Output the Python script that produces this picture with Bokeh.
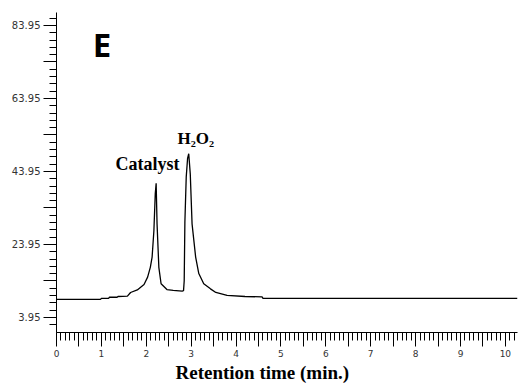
from bokeh.plotting import figure
from bokeh.models import FixedTicker, Label, Range1d, Title
from bokeh.embed import file_html
from bokeh.resources import INLINE

# Chromatogram trace (retention time in min, detector signal)
time_min = [0.00, 0.98, 1.00, 1.16, 1.18, 1.35, 1.37, 1.58, 1.65, 1.80, 1.95,
            2.03, 2.09, 2.13, 2.17, 2.20, 2.22, 2.24, 2.28, 2.33, 2.46, 2.60,
            2.80, 2.83, 2.845, 2.86, 2.89, 2.92, 2.946, 2.98, 3.02, 3.10, 3.17,
            3.28, 3.43, 3.55, 3.80, 4.20, 4.58, 4.60, 10.27]
signal = [8.9, 8.9, 9.2, 9.2, 9.5, 9.5, 9.7, 9.8, 10.8, 11.5, 13.0,
          15.0, 17.7, 20.5, 27.8, 37.8, 40.7, 29.6, 17.7, 13.2, 11.6, 11.4,
          11.2, 11.3, 14.0, 30.0, 42.4, 47.5, 48.8, 43.3, 29.6, 20.5, 16.0,
          13.2, 11.8, 10.8, 10.0, 9.7, 9.6, 9.2, 9.2]

y_major = [3.95, 13.95, 23.95, 33.95, 43.95, 53.95, 63.95, 73.95, 83.95]
y_labels = ["3.95", "23.95", "43.95", "63.95", "83.95"]
x_major = [i * 0.5 for i in range(21)]

x_title = "Retention time (min.)"
peak_names = ["Catalyst", "H\u2082O\u2082"]
peak_pos = [(1.314, 45.9), (2.695, 53.0)]
panel_letter = "E"

p = figure(width=519, height=383, output_backend="svg", toolbar_location=None,
           x_range=Range1d(0, 10.27), y_range=Range1d(-0.16, 87.5),
           min_border_left=56, min_border_right=2, min_border_top=12,
           min_border_bottom=51)
p.outline_line_color = None
p.xgrid.visible = False
p.ygrid.visible = False
p.background_fill_color = "white"
p.border_fill_color = "white"

p.line(time_min, signal, line_color="black", line_width=1.3)

# x axis
xa = p.xaxis[0]
xa.ticker = FixedTicker(ticks=x_major,
                        minor_ticks=[round(i * 0.1, 2) for i in range(103)])
xa.major_label_overrides = {v: (str(int(v)) if v == int(v) else "") for v in x_major}
xa.major_tick_in = 0
xa.major_tick_out = 14
xa.minor_tick_in = 0
xa.minor_tick_out = 8
xa.axis_line_color = "black"
xa.major_tick_line_color = "black"
xa.minor_tick_line_color = "black"
xa.major_label_text_font = "DejaVu Sans"
xa.major_label_text_font_size = "9px"
xa.major_label_text_color = "#333333"
xa.major_label_standoff = 3

# y axis
ya = p.yaxis[0]
ya.ticker = FixedTicker(ticks=y_major,
                        minor_ticks=[round(1.95 + 2 * k, 2) for k in range(43)])
ya.major_label_overrides = {v: (f"{v:.2f}" if f"{v:.2f}" in y_labels else "")
                            for v in y_major}
ya.major_tick_in = 0
ya.major_tick_out = 13
ya.minor_tick_in = 0
ya.minor_tick_out = 7
ya.axis_line_color = "black"
ya.major_tick_line_color = "black"
ya.minor_tick_line_color = "black"
ya.major_label_text_font = "DejaVu Sans"
ya.major_label_text_font_size = "10px"
ya.major_label_text_color = "#333333"
ya.major_label_standoff = 3

# axis title below
p.add_layout(Title(text=x_title, align="left", offset=119, standoff=0,
                   text_font="Liberation Serif", text_font_style="bold",
                   text_font_size="19px", text_color="black"), "below")

# peak labels
for name, (px, py), fs in zip(peak_names, peak_pos, ["18px", "17px"]):
    p.add_layout(Label(x=px, y=py, text=name, text_font="Liberation Serif",
                       text_font_style="bold", text_font_size=fs,
                       text_baseline="alphabetic", text_color="black"))

p.add_layout(Label(x=0.81, y=78.6, text=panel_letter, text_font="Open Sans",
                   text_font_style="bold", text_font_size="33px",
                   text_baseline="alphabetic", text_color="black"))

open("out.html", "w").write(file_html(p, INLINE))
